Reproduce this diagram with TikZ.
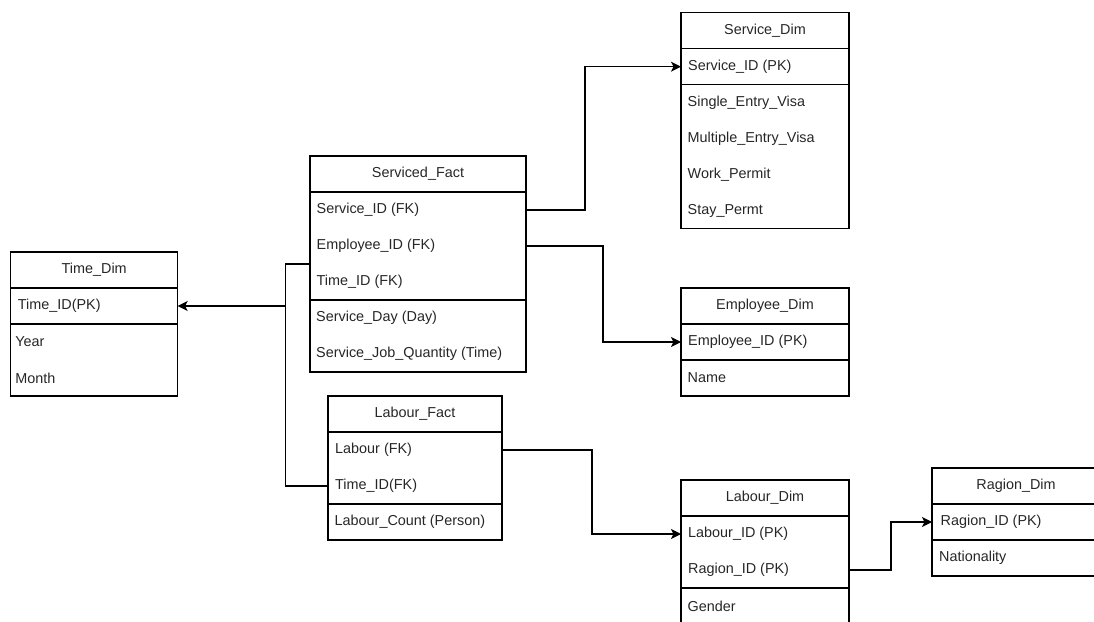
\documentclass[tikz,border=0pt]{standalone}
\usepackage{fontspec}
\setmainfont{Liberation Sans}
\usetikzlibrary{arrows.meta,positioning,calc}

\tikzset{
  tbl/.style={draw, line width=1.2pt, anchor=north west, outer sep=0pt, inner sep=0pt, minimum height=36pt, text=black!85},
  fld/.style={anchor=west, inner sep=0pt, text=black!85},
  line/.style={line width=1.2pt},
  link/.style={line, -{Stealth[length=10pt,width=10pt,inset=2.5pt]}}
}

\begin{document}
\begin{tikzpicture}[x=1pt, y=-1pt, font=\fontsize{14.4}{17}\selectfont]
\useasboundingbox (0,0) rectangle (1094,621);
\clip (0,0) rectangle (1094,621);

% Time_Dim
\node[tbl, minimum width=167pt] (td) at (10.7,252) {Time\_Dim};
\node[tbl, minimum width=167pt] (td-key) at (td.south west) {};
\node[tbl, minimum width=167pt, minimum height=72pt] (td-att) at (td-key.south west) {};
\node[fld] (td-tid) at ([xshift=7pt]td-key.west) {Time\_ID(PK)};
\node[fld] (td-year) at ([xshift=4.5pt,yshift=18pt]td-att.west) {Year};
\node[fld] (td-month) at ([xshift=4.5pt,yshift=-18pt]td-att.west) {Month};

% Serviced_Fact
\node[tbl, minimum width=216pt] (sf) at (310,156) {Serviced\_Fact};
\node[tbl, minimum width=216pt, minimum height=108pt] (sf-key) at (sf.south west) {};
\node[tbl, minimum width=216pt, minimum height=72pt] (sf-att) at (sf-key.south west) {};
\node[fld] (sf-svc) at ([xshift=6.5pt,yshift=36pt]sf-key.west) {Service\_ID (FK)};
\node[fld] (sf-emp) at ([xshift=6.5pt]sf-key.west) {Employee\_ID (FK)};
\node[fld] (sf-tid) at ([xshift=6.5pt,yshift=-36pt]sf-key.west) {Time\_ID (FK)};
\node[fld] (sf-day) at ([xshift=6pt,yshift=18pt]sf-att.west) {Service\_Day (Day)};
\node[fld] (sf-qty) at ([xshift=6pt,yshift=-18pt]sf-att.west) {Service\_Job\_Quantity (Time)};

% Service_Dim
\node[tbl, minimum width=168pt] (sd) at (681,12.7) {Service\_Dim};
\node[tbl, minimum width=168pt] (sd-key) at (sd.south west) {};
\node[tbl, minimum width=168pt, minimum height=144pt] (sd-att) at (sd-key.south west) {};
\node[fld] (sd-sid) at ([xshift=7pt]sd-key.west) {Service\_ID (PK)};
\node[fld] (sd-single) at ([xshift=6.5pt,yshift=54pt]sd-att.west) {Single\_Entry\_Visa};
\node[fld] (sd-multi) at ([xshift=6.5pt,yshift=18pt]sd-att.west) {Multiple\_Entry\_Visa};
\node[fld] (sd-work) at ([xshift=6.5pt,yshift=-18pt]sd-att.west) {Work\_Permit};
\node[fld] (sd-stay) at ([xshift=6.5pt,yshift=-54pt]sd-att.west) {Stay\_Permt};

% Employee_Dim
\node[tbl, minimum width=168pt] (ed) at (681,288) {Employee\_Dim};
\node[tbl, minimum width=168pt] (ed-key) at (ed.south west) {};
\node[tbl, minimum width=168pt] (ed-att) at (ed-key.south west) {};
\node[fld] (ed-eid) at ([xshift=7pt]ed-key.west) {Employee\_ID (PK)};
\node[fld] (ed-name) at ([xshift=6.5pt]ed-att.west) {Name};

% Labour_Fact
\node[tbl, minimum width=174pt] (lf) at (328,396) {Labour\_Fact};
\node[tbl, minimum width=174pt, minimum height=72pt] (lf-key) at (lf.south west) {};
\node[tbl, minimum width=174pt] (lf-att) at (lf-key.south west) {};
\node[fld] (lf-lab) at ([xshift=7pt,yshift=18pt]lf-key.west) {Labour (FK)};
\node[fld] (lf-tid) at ([xshift=7pt,yshift=-18pt]lf-key.west) {Time\_ID(FK)};
\node[fld] (lf-cnt) at ([xshift=6.5pt]lf-att.west) {Labour\_Count (Person)};

% Labour_Dim
\node[tbl, minimum width=168pt] (ld) at (681,480) {Labour\_Dim};
\node[tbl, minimum width=168pt, minimum height=72pt] (ld-key) at (ld.south west) {};
\node[tbl, minimum width=168pt] (ld-att) at (ld-key.south west) {};
\node[fld] (ld-lid) at ([xshift=7pt,yshift=18pt]ld-key.west) {Labour\_ID (PK)};
\node[fld] (ld-rid) at ([xshift=7pt,yshift=-18pt]ld-key.west) {Ragion\_ID (PK)};
\node[fld] (ld-gen) at ([xshift=6.5pt]ld-att.west) {Gender};

% Ragion_Dim
\node[tbl, minimum width=168pt] (rd) at (932,468) {Ragion\_Dim};
\node[tbl, minimum width=168pt] (rd-key) at (rd.south west) {};
\node[tbl, minimum width=168pt] (rd-att) at (rd-key.south west) {};
\node[fld] (rd-rid) at ([xshift=8.5pt]rd-key.west) {Ragion\_ID (PK)};
\node[fld] (rd-nat) at ([xshift=7pt]rd-att.west) {Nationality};

% connectors
\coordinate (tbus) at (285.7,306);
\draw[link] (sf-key.east |- sf-svc) -- ++(59,0) |- (sd-key.west);
\draw[link] (sf-key.east |- sf-emp) -- ++(77,0) |- (ed-key.west);
\draw[line] ([yshift=18pt]sf-tid.west -| sf-key.west) -| (tbus) |- (lf-key.west |- lf-tid);
\draw[link] (tbus) -- (td-key.east);
\draw[link] (lf-key.east |- lf-lab) -- ++(90,0) |- (ld-key.west |- ld-lid);
\draw[link] (ld-key.east |- ld-rid) -- ++(42,0) |- (rd-key.west);
\end{tikzpicture}
\end{document}
